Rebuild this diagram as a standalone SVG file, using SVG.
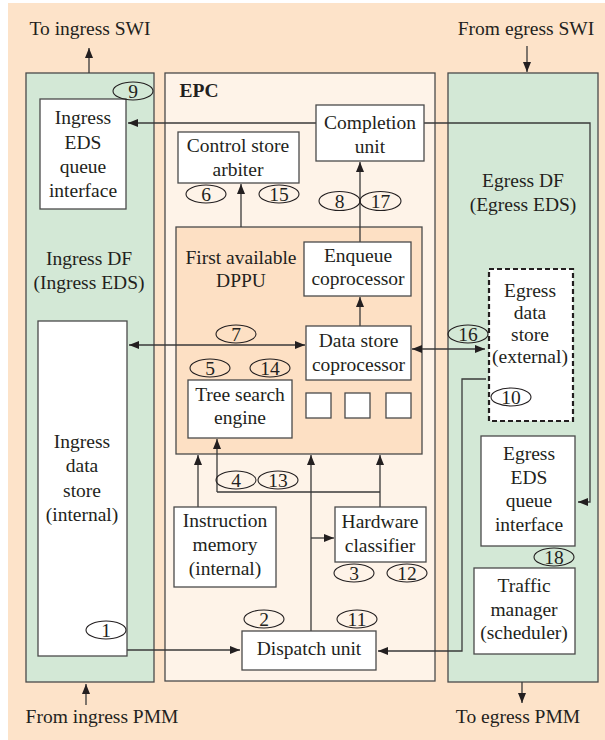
<svg xmlns="http://www.w3.org/2000/svg" width="605" height="740" viewBox="0 0 605 740">
<defs>
<marker id="ah" viewBox="0 0 10 8" refX="10" refY="4" markerWidth="10" markerHeight="8" orient="auto-start-reverse" markerUnits="userSpaceOnUse"><path d="M0,0 L10,4 L0,8 z" fill="#231f20"/></marker>
<style>
text{font-family:"Liberation Serif","Times New Roman",serif;font-size:19.5px;fill:#231f20;text-anchor:middle}
.b{fill:#fff;stroke:#4a4a4a;stroke-width:1.3}
.e{fill:none;stroke:#231f20;stroke-width:1.1}
.c{fill:none;stroke:#3a3a3a;stroke-width:1.3}
.ca{fill:none;stroke:#3a3a3a;stroke-width:1.3;marker-end:url(#ah)}
.cb{fill:none;stroke:#3a3a3a;stroke-width:1.3;marker-end:url(#ah);marker-start:url(#ah)}
</style>
</defs>
<rect x="8" y="3" width="597" height="737" fill="#fde3c9"/>
<g id="ingress-df"><rect x="26" y="73" width="128" height="609" fill="#d3e8d6" stroke="#4a4a4a" stroke-width="1.3"/>
<text x="89" y="265">Ingress DF</text><text x="89" y="289">(Ingress EDS)</text></g>
<g id="epc"><rect x="165" y="73" width="270" height="608" fill="#fef3e8" stroke="#4a4a4a" stroke-width="1.3"/>
<text x="199" y="97" font-weight="bold">EPC</text></g>
<g id="egress-df"><rect x="448" y="73" width="150" height="609" fill="#d3e8d6" stroke="#4a4a4a" stroke-width="1.3"/>
<text x="523" y="187">Egress DF</text><text x="523" y="211">(Egress EDS)</text></g>
<g id="dppu"><rect x="176" y="227" width="246" height="227" fill="#fde0c4" stroke="#4a4a4a" stroke-width="1.3"/>
<text x="241" y="264">First available</text><text x="241" y="287">DPPU</text>
<rect class="b" x="306" y="393" width="25" height="25"/><rect class="b" x="345" y="393" width="25" height="25"/><rect class="b" x="386" y="393" width="25" height="25"/></g>
<g id="labels">
<text x="90" y="35">To ingress SWI</text>
<text x="526" y="35">From egress SWI</text>
<text x="102" y="723">From ingress PMM</text>
<text x="518" y="723">To egress PMM</text>
</g>
<g id="connectors">
<path class="ca" d="M89,73 V48"/>
<path class="ca" d="M527,46 V72"/>
<path class="ca" d="M86,705 V684"/>
<path class="ca" d="M522,682 V703"/>
<path class="ca" d="M316,123 H128"/>
<path class="ca" d="M424,123 H590 V502 H578"/>
<path class="ca" d="M241,227 V184"/>
<path class="ca" d="M360,242 V162"/>
<path class="ca" d="M360,326 V297"/>
<path class="cb" d="M129,345 H305"/>
<path class="cb" d="M412,349 H485"/>
<path class="ca" d="M486,379 H462 V651 H378"/>
<path class="ca" d="M127,650 H240"/>
<path class="ca" d="M198,507 V455"/>
<path class="ca" d="M217,492 V439"/>
<path class="c" d="M217,492 H380"/>
<path class="ca" d="M380,507 V455"/>
<path class="ca" d="M311,631 V455"/>
<path class="ca" d="M311,538 H334"/>
</g>
<g id="ingress-eds-queue"><rect class="b" x="40" y="99" width="86" height="110"/>
<text x="83" y="124">Ingress</text><text x="83" y="149">EDS</text><text x="83" y="173">queue</text><text x="83" y="197">interface</text></g>
<g id="ingress-data-store"><rect class="b" x="38" y="321" width="89" height="335"/>
<text x="82" y="448">Ingress</text><text x="82" y="472">data</text><text x="82" y="497">store</text><text x="82" y="521">(internal)</text></g>
<g id="control-store-arbiter"><rect class="b" x="178" y="132" width="121" height="51"/>
<text x="238" y="152">Control store</text><text x="238" y="176">arbiter</text></g>
<g id="completion-unit"><rect class="b" x="316" y="105" width="108" height="56"/>
<text x="370" y="129">Completion</text><text x="370" y="153">unit</text></g>
<g id="enqueue"><rect class="b" x="304" y="242" width="107" height="54"/>
<text x="358" y="262">Enqueue</text><text x="358" y="285">coprocessor</text></g>
<g id="data-store-coprocessor"><rect class="b" x="306" y="326" width="105" height="54"/>
<text x="358.5" y="347">Data store</text><text x="358.5" y="371">coprocessor</text></g>
<g id="tree-search"><rect class="b" x="188" y="380" width="104" height="58"/>
<text x="240" y="401">Tree search</text><text x="240" y="424">engine</text></g>
<g id="instruction-memory"><rect class="b" x="174" y="507" width="102" height="80"/>
<text x="225" y="527">Instruction</text><text x="225" y="551">memory</text><text x="225" y="575">(internal)</text></g>
<g id="hardware-classifier"><rect class="b" x="335" y="507" width="91" height="55"/>
<text x="380" y="528">Hardware</text><text x="380" y="552">classifier</text></g>
<g id="dispatch-unit"><rect class="b" x="242" y="631" width="134" height="39"/>
<text x="309" y="655">Dispatch unit</text></g>
<g id="egress-data-store"><rect x="489" y="269" width="84" height="152" fill="#fff" stroke="#231f20" stroke-width="2.2" stroke-dasharray="5,3"/>
<text x="530" y="297">Egress</text><text x="530" y="319">data</text><text x="530" y="341">store</text><text x="530" y="363">(external)</text></g>
<g id="egress-eds-queue"><rect class="b" x="481" y="436" width="94" height="110"/>
<text x="529" y="460">Egress</text><text x="529" y="484">EDS</text><text x="529" y="507">queue</text><text x="529" y="531">interface</text></g>
<g id="traffic-manager"><rect class="b" x="474" y="568" width="101" height="86"/>
<text x="524" y="592">Traffic</text><text x="524" y="616">manager</text><text x="524" y="639">(scheduler)</text></g>
<g id="steps">
<ellipse class="e" cx="133" cy="91" rx="20" ry="9"/><text x="133" y="97.5">9</text>
<ellipse class="e" cx="206" cy="194" rx="20" ry="9"/><text x="206" y="200.5">6</text>
<ellipse class="e" cx="279" cy="194" rx="20" ry="9"/><text x="279" y="200.5">15</text>
<ellipse class="e" cx="339.5" cy="201" rx="20.5" ry="9.5"/><text x="339.5" y="207.5">8</text>
<ellipse class="e" cx="380.5" cy="201" rx="20.5" ry="9.5"/><text x="380.5" y="207.5">17</text>
<ellipse class="e" cx="236" cy="334" rx="20" ry="9"/><text x="236" y="340.5">7</text>
<ellipse class="e" cx="468" cy="334" rx="20" ry="9"/><text x="468" y="340.5">16</text>
<ellipse class="e" cx="210" cy="368" rx="20" ry="9"/><text x="210" y="374.5">5</text>
<ellipse class="e" cx="270" cy="368" rx="20" ry="9"/><text x="270" y="374.5">14</text>
<ellipse class="e" cx="511" cy="397" rx="20" ry="9"/><text x="511" y="403.5">10</text>
<ellipse class="e" cx="236" cy="480" rx="20" ry="9"/><text x="236" y="486.5">4</text>
<ellipse class="e" cx="278" cy="480" rx="20" ry="9"/><text x="278" y="486.5">13</text>
<ellipse class="e" cx="554" cy="557" rx="20" ry="9"/><text x="554" y="563.5">18</text>
<ellipse class="e" cx="354" cy="573" rx="20" ry="9"/><text x="354" y="579.5">3</text>
<ellipse class="e" cx="407" cy="573" rx="20" ry="9"/><text x="407" y="579.5">12</text>
<ellipse class="e" cx="264" cy="619" rx="20" ry="9"/><text x="264" y="625.5">2</text>
<ellipse class="e" cx="357" cy="619" rx="20" ry="9"/><text x="357" y="625.5">11</text>
<ellipse class="e" cx="106" cy="630" rx="20" ry="9"/><text x="106" y="636.5">1</text>
</g>
</svg>
